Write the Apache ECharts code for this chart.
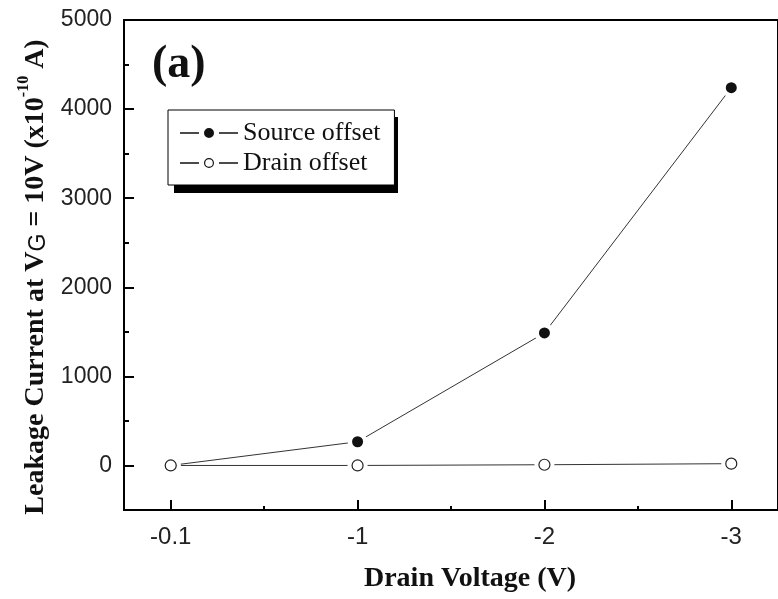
<!DOCTYPE html>
<html>
<head>
<meta charset="utf-8">
<title>Leakage Current vs Drain Voltage</title>
<script src="https://cdn.jsdelivr.net/npm/echarts@6/dist/echarts.min.js"></script>
<style>
  html, body { margin: 0; padding: 0; background: #fff; }
  #chart { width: 778px; height: 599px; }
</style>
</head>
<body>
<div id="chart"></div>
<script>
// Drain voltage settings (equally spaced on the axis)
const drainVoltages = ['-0.1', '-1', '-2', '-3'];
// Leakage current at VG = 10V, in units of 1e-10 A
const sourceOffset = [0, 266, 1487, 4240];
const drainOffset = [0, 0, 8, 20];
// Y axis labels and tick values
const yLabelValues = [0, 1000, 2000, 3000, 4000, 5000];
const yMinorTicks = [500, 1500, 2500, 3500, 4500];
const xMinorTicks = [0.5, 1.5, 2.5];

const idx = drainVoltages.map((_, i) => i);
const toPoints = arr => arr.map((v, i) => [idx[i], v]);

// Legend glyphs: dash - marker - dash
const iconSolid = 'path://M0 5.3H19V6.7H0Z M24 6A5 5 0 1 0 34 6A5 5 0 1 0 24 6Z M39 5.3H58V6.7H39Z';
const iconOpen = 'path://M0 5.3H19V6.7H0Z M24 6A5 5 0 1 0 34 6A5 5 0 1 0 24 6Z M25.2 6A3.8 3.8 0 1 1 32.8 6A3.8 3.8 0 1 1 25.2 6Z M39 5.3H58V6.7H39Z';

const serif = '"Liberation Serif", "Times New Roman", serif';
const sans = '"Liberation Sans", Arial, sans-serif';

const chart = echarts.init(document.getElementById('chart'));

const xBase = {
  type: 'value', min: -0.25, max: 3.25, gridIndex: 0,
  splitLine: { show: false }
};
const yBase = {
  type: 'value', min: -500, max: 5000, gridIndex: 0,
  splitLine: { show: false }
};

// legend box geometry (also used for its drop shadow)
const legendBox = { left: 168, top: 110, width: 224, height: 76 };

chart.setOption({
  animation: false,
  backgroundColor: '#fff',
  grid: {
    left: 124, top: 20, right: -8, bottom: 89,
    show: true, borderColor: '#000', borderWidth: 2, backgroundColor: 'transparent'
  },
  xAxis: [
    Object.assign({}, xBase, {
      name: 'Drain Voltage (V)',
      nameLocation: 'middle',
      nameGap: 55,
      nameTextStyle: { fontFamily: serif, fontWeight: 'bold', fontSize: 28, color: '#111', padding: [0, 0, 0, 38] },
      axisLine: { show: true, onZero: false, lineStyle: { color: '#000', width: 2 } },
      axisTick: { show: true, inside: true, length: 10, customValues: idx, lineStyle: { color: '#000', width: 2 } },
      axisLabel: {
        customValues: idx, margin: 15,
        formatter: v => drainVoltages[Math.round(v)],
        fontFamily: sans, fontSize: 24, color: '#222'
      }
    }),
    Object.assign({}, xBase, {
      position: 'bottom',
      axisLine: { show: false, onZero: false },
      axisTick: { show: true, inside: true, length: 4, customValues: xMinorTicks, lineStyle: { color: '#000', width: 2 } },
      axisLabel: { show: false }
    })
  ],
  yAxis: [
    Object.assign({}, yBase, {
      name: '{b|Leakage Current at V}{g|G}{b| = 10V (x10}{sup|-10}{b| A)}',
      nameLocation: 'middle',
      nameGap: 72,
      nameRotate: 90,
      nameTextStyle: {
        color: '#111',
        padding: [0, 24, 0, 0],
        rich: {
          b: { fontFamily: serif, fontWeight: 'bold', fontSize: 28, color: '#111', lineHeight: 34, verticalAlign: 'bottom' },
          g: { fontFamily: sans, fontSize: 23, color: '#111', lineHeight: 34, verticalAlign: 'bottom' },
          sup: { fontFamily: serif, fontWeight: 'bold', fontSize: 16, color: '#111', lineHeight: 34, verticalAlign: 'top' }
        }
      },
      axisLine: { show: true, onZero: false, lineStyle: { color: '#000', width: 2 } },
      axisTick: { show: true, inside: true, length: 10, customValues: yLabelValues, lineStyle: { color: '#000', width: 2 } },
      axisLabel: {
        customValues: yLabelValues, margin: 12,
        formatter: v => String(v),
        fontFamily: sans, fontSize: 23, color: '#222'
      }
    }),
    Object.assign({}, yBase, {
      position: 'left',
      axisLine: { show: false, onZero: false },
      axisTick: { show: true, inside: true, length: 5, customValues: yMinorTicks, lineStyle: { color: '#000', width: 2 } },
      axisLabel: { show: false }
    })
  ],
  legend: {
    orient: 'vertical',
    left: legendBox.left, top: legendBox.top,
    width: legendBox.width - 26,
    padding: [10, 14, 9, 12],
    itemWidth: 58, itemHeight: 10, itemGap: 4,
    selectedMode: false,
    backgroundColor: '#fff',
    borderColor: '#000', borderWidth: 1,
    z: 6,
    textStyle: { fontFamily: serif, fontSize: 26, color: '#111', lineHeight: 26 },
    data: [
      { name: 'Source offset', icon: iconSolid, itemStyle: { color: '#111', borderWidth: 0 } },
      { name: 'Drain offset', icon: iconOpen, itemStyle: { color: '#111', borderWidth: 0 } }
    ]
  },
  graphic: [
    {
      // drop shadow of the legend box
      type: 'rect', z: 5, silent: true,
      shape: { x: legendBox.left + 6, y: legendBox.top + 7, width: legendBox.width, height: legendBox.height },
      style: { fill: '#000' }
    },
    {
      type: 'text', left: 152, top: 42, z: 10,
      style: { text: '(a)', font: 'bold 46px ' + serif, fill: '#111' }
    }
  ],
  series: [
    {
      name: 'Source offset', type: 'line', data: toPoints(sourceOffset), z: 2,
      symbol: 'none', lineStyle: { color: '#333', width: 1 }, itemStyle: { color: '#111' }
    },
    {
      name: 'Drain offset', type: 'line', data: toPoints(drainOffset), z: 2,
      symbol: 'none', lineStyle: { color: '#333', width: 1 }, itemStyle: { color: '#111' }
    },
    {
      // white clearing behind every marker so the lines stop short of it
      name: 'clearance', type: 'scatter', silent: true, z: 3,
      data: toPoints(sourceOffset).concat(toPoints(drainOffset)),
      symbol: 'circle', symbolSize: 20, itemStyle: { color: '#fff', opacity: 1 }
    },
    {
      name: 'Source markers', type: 'scatter', silent: true, z: 4,
      data: toPoints(sourceOffset),
      symbol: 'circle', symbolSize: 11, itemStyle: { color: '#111', opacity: 1 }
    },
    {
      name: 'Drain markers', type: 'scatter', silent: true, z: 5,
      data: toPoints(drainOffset),
      symbol: 'circle', symbolSize: 11, itemStyle: { color: '#fff', borderColor: '#222', borderWidth: 1.2, opacity: 1 }
    }
  ]
});
</script>
</body>
</html>
